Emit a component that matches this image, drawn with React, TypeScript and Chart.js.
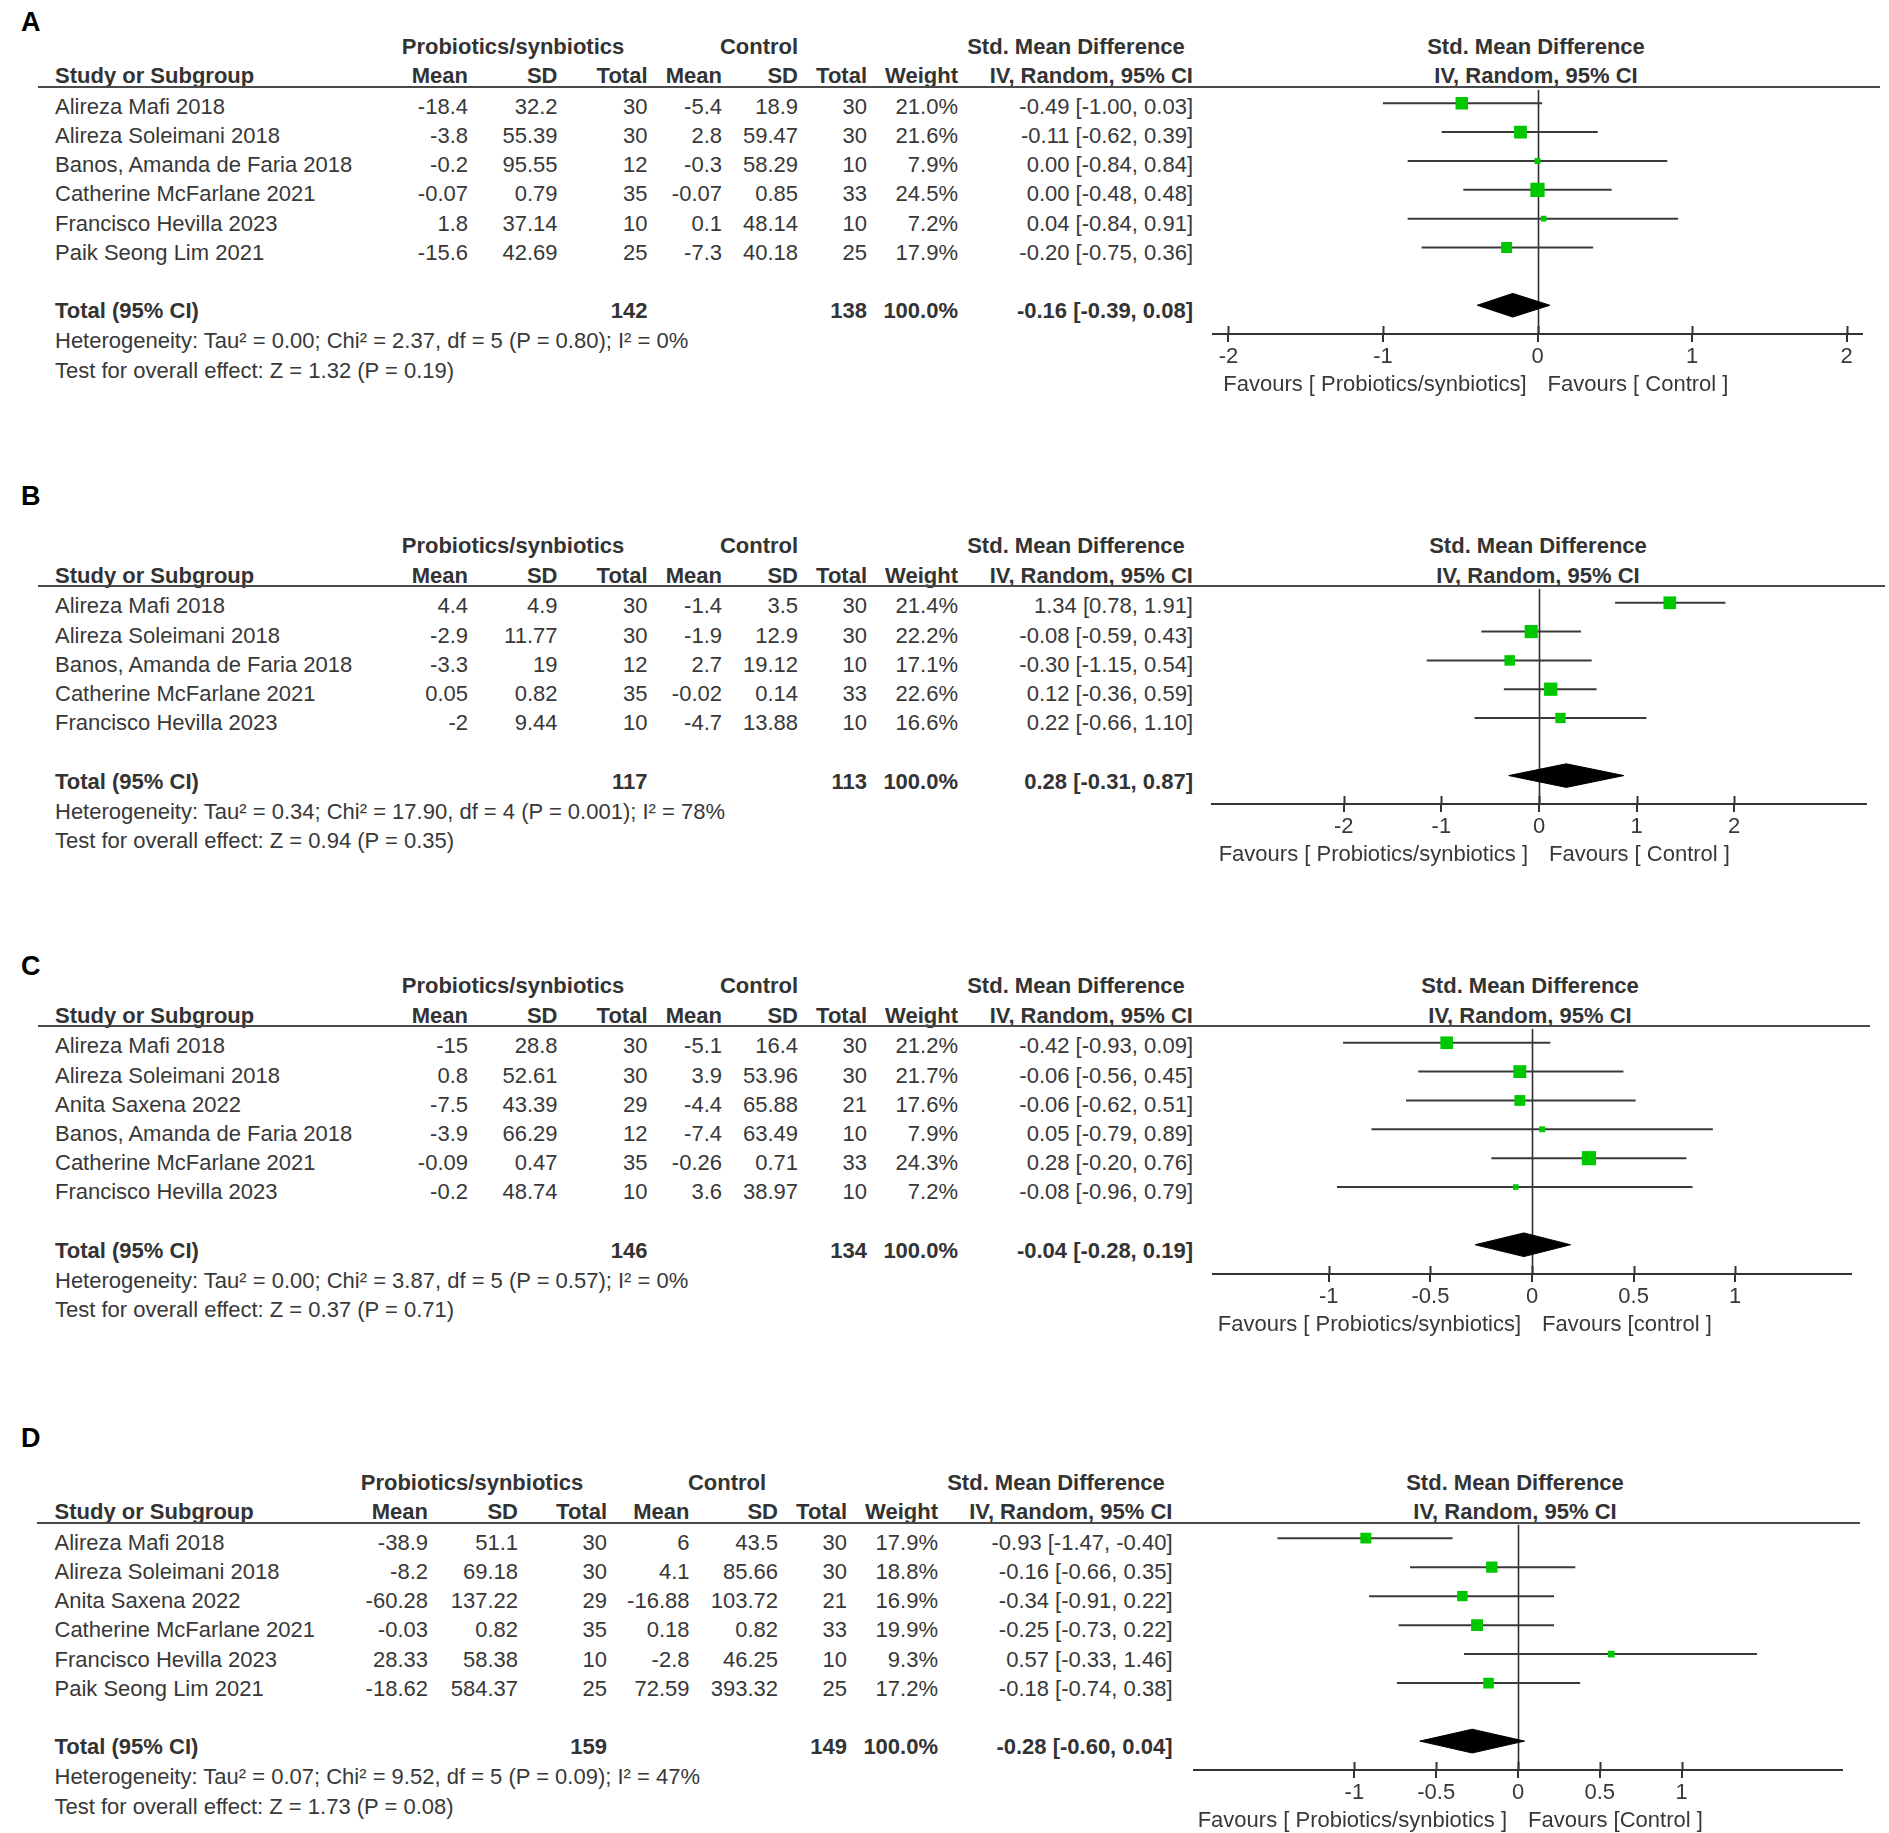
import React, { useEffect, useRef } from "react";
import { Chart, registerables } from "chart.js";

Chart.register(...registerables);

const PAGE_W = 1889;
const PAGE_H = 1833;
const FONT = "'Liberation Sans', Arial, Helvetica, sans-serif";
const TEXT = "#383838";
const GREEN = "#00c800";
const ROW = 29.2;

// ---------------- Panel A ----------------
const studiesA = ["Alireza Mafi 2018", "Alireza Soleimani 2018", "Banos, Amanda de Faria 2018", "Catherine McFarlane 2021", "Francisco Hevilla 2023", "Paik Seong Lim 2021"];
const expMeanA = [-18.4, -3.8, -0.2, -0.07, 1.8, -15.6];
const expSdA = [32.2, 55.39, 95.55, 0.79, 37.14, 42.69];
const expTotalA = [30, 30, 12, 35, 10, 25];
const ctlMeanA = [-5.4, 2.8, -0.3, -0.07, 0.1, -7.3];
const ctlSdA = [18.9, 59.47, 58.29, 0.85, 48.14, 40.18];
const ctlTotalA = [30, 30, 10, 33, 10, 25];
const weightA = [21.0, 21.6, 7.9, 24.5, 7.2, 17.9];
const smdA = [-0.49, -0.11, 0.0, 0.0, 0.04, -0.2];
const ciLowA = [-1.0, -0.62, -0.84, -0.48, -0.84, -0.75];
const ciHighA = [0.03, 0.39, 0.84, 0.48, 0.91, 0.36];
const totalsA = [142, 138];
const pooledA = [-0.16, -0.39, 0.08];
const hetA = "Heterogeneity: Tau\u00b2 = 0.00; Chi\u00b2 = 2.37, df = 5 (P = 0.80); I\u00b2 = 0%";
const testA = "Test for overall effect: Z = 1.32 (P = 0.19)";
const ticksA = [-2, -1, 0, 1, 2];
const favoursA = ["Favours [ Probiotics/synbiotics]", "Favours [ Control ]"];

// ---------------- Panel B ----------------
const studiesB = ["Alireza Mafi 2018", "Alireza Soleimani 2018", "Banos, Amanda de Faria 2018", "Catherine McFarlane 2021", "Francisco Hevilla 2023"];
const expMeanB = [4.4, -2.9, -3.3, 0.05, -2];
const expSdB = [4.9, 11.77, 19, 0.82, 9.44];
const expTotalB = [30, 30, 12, 35, 10];
const ctlMeanB = [-1.4, -1.9, 2.7, -0.02, -4.7];
const ctlSdB = [3.5, 12.9, 19.12, 0.14, 13.88];
const ctlTotalB = [30, 30, 10, 33, 10];
const weightB = [21.4, 22.2, 17.1, 22.6, 16.6];
const smdB = [1.34, -0.08, -0.3, 0.12, 0.22];
const ciLowB = [0.78, -0.59, -1.15, -0.36, -0.66];
const ciHighB = [1.91, 0.43, 0.54, 0.59, 1.1];
const totalsB = [117, 113];
const pooledB = [0.28, -0.31, 0.87];
const hetB = "Heterogeneity: Tau\u00b2 = 0.34; Chi\u00b2 = 17.90, df = 4 (P = 0.001); I\u00b2 = 78%";
const testB = "Test for overall effect: Z = 0.94 (P = 0.35)";
const ticksB = [-2, -1, 0, 1, 2];
const favoursB = ["Favours [ Probiotics/synbiotics ]", "Favours [ Control ]"];

// ---------------- Panel C ----------------
const studiesC = ["Alireza Mafi 2018", "Alireza Soleimani 2018", "Anita Saxena 2022", "Banos, Amanda de Faria 2018", "Catherine McFarlane 2021", "Francisco Hevilla 2023"];
const expMeanC = [-15, 0.8, -7.5, -3.9, -0.09, -0.2];
const expSdC = [28.8, 52.61, 43.39, 66.29, 0.47, 48.74];
const expTotalC = [30, 30, 29, 12, 35, 10];
const ctlMeanC = [-5.1, 3.9, -4.4, -7.4, -0.26, 3.6];
const ctlSdC = [16.4, 53.96, 65.88, 63.49, 0.71, 38.97];
const ctlTotalC = [30, 30, 21, 10, 33, 10];
const weightC = [21.2, 21.7, 17.6, 7.9, 24.3, 7.2];
const smdC = [-0.42, -0.06, -0.06, 0.05, 0.28, -0.08];
const ciLowC = [-0.93, -0.56, -0.62, -0.79, -0.2, -0.96];
const ciHighC = [0.09, 0.45, 0.51, 0.89, 0.76, 0.79];
const totalsC = [146, 134];
const pooledC = [-0.04, -0.28, 0.19];
const hetC = "Heterogeneity: Tau\u00b2 = 0.00; Chi\u00b2 = 3.87, df = 5 (P = 0.57); I\u00b2 = 0%";
const testC = "Test for overall effect: Z = 0.37 (P = 0.71)";
const ticksC = [-1, -0.5, 0, 0.5, 1];
const favoursC = ["Favours [ Probiotics/synbiotics]", "Favours [control ]"];

// ---------------- Panel D ----------------
const studiesD = ["Alireza Mafi 2018", "Alireza Soleimani 2018", "Anita Saxena 2022", "Catherine McFarlane 2021", "Francisco Hevilla 2023", "Paik Seong Lim 2021"];
const expMeanD = [-38.9, -8.2, -60.28, -0.03, 28.33, -18.62];
const expSdD = [51.1, 69.18, 137.22, 0.82, 58.38, 584.37];
const expTotalD = [30, 30, 29, 35, 10, 25];
const ctlMeanD = [6, 4.1, -16.88, 0.18, -2.8, 72.59];
const ctlSdD = [43.5, 85.66, 103.72, 0.82, 46.25, 393.32];
const ctlTotalD = [30, 30, 21, 33, 10, 25];
const weightD = [17.9, 18.8, 16.9, 19.9, 9.3, 17.2];
const smdD = [-0.93, -0.16, -0.34, -0.25, 0.57, -0.18];
const ciLowD = [-1.47, -0.66, -0.91, -0.73, -0.33, -0.74];
const ciHighD = [-0.4, 0.35, 0.22, 0.22, 1.46, 0.38];
const totalsD = [159, 149];
const pooledD = [-0.28, -0.6, 0.04];
const hetD = "Heterogeneity: Tau\u00b2 = 0.07; Chi\u00b2 = 9.52, df = 5 (P = 0.09); I\u00b2 = 47%";
const testD = "Test for overall effect: Z = 1.73 (P = 0.08)";
const ticksD = [-1, -0.5, 0, 0.5, 1];
const favoursD = ["Favours [ Probiotics/synbiotics ]", "Favours [Control ]"];

type PanelData = {
  id: string;
  studies: string[];
  expMean: number[];
  expSd: number[];
  expTotal: number[];
  ctlMean: number[];
  ctlSd: number[];
  ctlTotal: number[];
  weight: number[];
  smd: number[];
  ciLow: number[];
  ciHigh: number[];
  totals: number[];
  pooled: number[];
  het: string;
  test: string;
  ticks: number[];
  favours: string[];
};

const panels: PanelData[] = [
  { id: "A", studies: studiesA, expMean: expMeanA, expSd: expSdA, expTotal: expTotalA, ctlMean: ctlMeanA, ctlSd: ctlSdA, ctlTotal: ctlTotalA, weight: weightA, smd: smdA, ciLow: ciLowA, ciHigh: ciHighA, totals: totalsA, pooled: pooledA, het: hetA, test: testA, ticks: ticksA, favours: favoursA },
  { id: "B", studies: studiesB, expMean: expMeanB, expSd: expSdB, expTotal: expTotalB, ctlMean: ctlMeanB, ctlSd: ctlSdB, ctlTotal: ctlTotalB, weight: weightB, smd: smdB, ciLow: ciLowB, ciHigh: ciHighB, totals: totalsB, pooled: pooledB, het: hetB, test: testB, ticks: ticksB, favours: favoursB },
  { id: "C", studies: studiesC, expMean: expMeanC, expSd: expSdC, expTotal: expTotalC, ctlMean: ctlMeanC, ctlSd: ctlSdC, ctlTotal: ctlTotalC, weight: weightC, smd: smdC, ciLow: ciLowC, ciHigh: ciHighC, totals: totalsC, pooled: pooledC, het: hetC, test: testC, ticks: ticksC, favours: favoursC },
  { id: "D", studies: studiesD, expMean: expMeanD, expSd: expSdD, expTotal: expTotalD, ctlMean: ctlMeanD, ctlSd: ctlSdD, ctlTotal: ctlTotalD, weight: weightD, smd: smdD, ciLow: ciLowD, ciHigh: ciHighD, totals: totalsD, pooled: pooledD, het: hetD, test: testD, ticks: ticksD, favours: favoursD },
];

// ---------------- Layout (positions only) ----------------
type Cols = { name: number; mean: number; sd: number; n: number; cMean: number; cSd: number; cN: number; w: number; ci: number; probHead: number; ctlHead: number; smdHead: number };
const COLS_ABC: Cols = { name: 55, mean: 468, sd: 557.5, n: 647.5, cMean: 722, cSd: 798, cN: 867, w: 958, ci: 1193, probHead: 513, ctlHead: 759, smdHead: 1076 };
const COLS_D: Cols = { name: 54.5, mean: 428, sd: 518, n: 607, cMean: 689.5, cSd: 778, cN: 847, w: 938, ci: 1172.5, probHead: 472, ctlHead: 727, smdHead: 1056 };

type Layout = { labelY: number; h1: number; cols: Cols; axisLeft: number; axisRight: number; range: number; plotHeadX: number; lineLeft: number; lineRight: number };
const layouts: Layout[] = [
  { labelY: 32, h1: 54.5, cols: COLS_ABC, axisLeft: 1213, axisRight: 1862, range: 2.1, plotHeadX: 1536, lineLeft: 38, lineRight: 1880 },
  { labelY: 506, h1: 554, cols: COLS_ABC, axisLeft: 1212, axisRight: 1866, range: 3.35, plotHeadX: 1538, lineLeft: 38, lineRight: 1885 },
  { labelY: 976, h1: 994, cols: COLS_ABC, axisLeft: 1213, axisRight: 1851, range: 1.57, plotHeadX: 1530, lineLeft: 38, lineRight: 1870 },
  { labelY: 1448, h1: 1490.5, cols: COLS_D, axisLeft: 1194, axisRight: 1842, range: 1.98, plotHeadX: 1515, lineLeft: 37, lineRight: 1860 },
];

// ---------------- Text helper ----------------
type TxtProps = { x: number; y: number; text: string; align?: "left" | "right" | "center"; bold?: boolean; size?: number; color?: string };
function Txt({ x, y, text, align = "left", bold = false, size = 22, color = TEXT }: TxtProps) {
  const style: React.CSSProperties = {
    position: "absolute",
    top: y - 0.8465 * size,
    fontSize: size,
    lineHeight: `${size}px`,
    fontWeight: bold ? 700 : 400,
    color,
    whiteSpace: "nowrap",
    fontFamily: FONT,
  };
  if (align === "left") style.left = x;
  else if (align === "right") style.right = PAGE_W - x;
  else {
    style.left = x - 400;
    style.width = 800;
    style.textAlign = "center";
  }
  return <div style={style}>{text}</div>;
}

// ---------------- Chart plugin ----------------
const forestDecor = {
  id: "forestDecor",
  beforeDatasetsDraw(chart: any) {
    const { ctx, chartArea, scales } = chart;
    const x0 = Math.round(scales.x.getPixelForValue(0)) + 0.5;
    ctx.save();
    ctx.strokeStyle = "#2e2e2e";
    ctx.lineWidth = 1.6;
    ctx.beginPath();
    ctx.moveTo(x0, chartArea.top);
    ctx.lineTo(x0, chartArea.bottom);
    ctx.stroke();
    ctx.restore();
  },
  afterDraw(chart: any, _args: any, opts: any) {
    const { ctx, chartArea, scales } = chart;
    const xs = scales.x;
    ctx.save();
    ctx.strokeStyle = "#333";
    ctx.lineWidth = 2;
    xs.ticks.forEach((t: any) => {
      const px = Math.round(xs.getPixelForValue(t.value)) + 0.5;
      ctx.beginPath();
      ctx.moveTo(px, chartArea.bottom - 8);
      ctx.lineTo(px, chartArea.bottom);
      ctx.stroke();
    });
    const x0 = xs.getPixelForValue(0);
    ctx.font = `22px ${FONT}`;
    ctx.fillStyle = TEXT;
    ctx.textBaseline = "alphabetic";
    ctx.textAlign = "right";
    ctx.fillText(opts.left, x0 - 11, chartArea.bottom + 57);
    ctx.textAlign = "left";
    ctx.fillText(opts.right, x0 + 10, chartArea.bottom + 57);
    ctx.restore();
  },
};

function ForestChart({ d, L }: { d: PanelData; L: Layout }) {
  const ref = useRef<HTMLCanvasElement>(null);
  const n = d.studies.length;
  const chartTop = Math.round(L.h1 + 32);
  const axisY = Math.round(L.h1 + 46 + ROW * (n + 2));
  const cLeft = 1150;
  const cTop = chartTop - 6;
  const cW = PAGE_W - cLeft;
  const EXTRA = 66;
  const AXIS_H = 36;
  const cH = axisY - cTop + EXTRA;
  const row0 = L.h1 + 46;
  const yMin = (chartTop - row0) / ROW;
  const yMax = (axisY - row0) / ROW;

  useEffect(() => {
    if (!ref.current) return;
    const datasets: any[] = [];
    d.ciLow.forEach((lo, i) => {
      datasets.push({
        data: [{ x: lo, y: i }, { x: d.ciHigh[i], y: i }],
        borderColor: "#3a3a3a",
        borderWidth: 2,
        pointRadius: 0,
        fill: false,
        order: 3,
      });
    });
    const t = n + 1;
    const hh = 0.41;
    const [est, lo, hi] = d.pooled;
    datasets.push({
      data: [{ x: lo, y: t }, { x: est, y: t - hh }, { x: hi, y: t }, { x: est, y: t + hh }, { x: lo, y: t }],
      borderColor: "#000",
      backgroundColor: "#000",
      borderWidth: 1,
      pointRadius: 0,
      fill: "shape",
      order: 2,
    });
    const side = (w: number) => 2 + 0.5 * w;
    datasets.push({
      data: d.smd.map((v, i) => ({ x: v, y: i })),
      showLine: false,
      pointStyle: "rect",
      pointRadius: d.weight.map((w) => side(w) / Math.SQRT2),
      pointHoverRadius: d.weight.map((w) => side(w) / Math.SQRT2),
      backgroundColor: GREEN,
      borderColor: GREEN,
      borderWidth: 0,
      order: 0,
    });

    const ticks = d.ticks;
    const chart = new Chart(ref.current, {
      type: "line",
      data: { datasets },
      plugins: [forestDecor as any],
      options: {
        animation: false,
        responsive: false,
        devicePixelRatio: 1,
        events: [],
        layout: {
          padding: {
            left: L.axisLeft - cLeft,
            right: cLeft + cW - L.axisRight,
            top: chartTop - cTop,
            bottom: EXTRA - AXIS_H,
          },
        },
        plugins: {
          legend: { display: false },
          tooltip: { enabled: false },
          forestDecor: { left: d.favours[0], right: d.favours[1] },
        } as any,
        scales: {
          x: {
            type: "linear",
            min: -L.range,
            max: L.range,
            afterBuildTicks: (s: any) => {
              s.ticks = ticks.map((v) => ({ value: v }));
            },
            afterFit: (s: any) => {
              s.height = AXIS_H;
            },
            grid: { display: true, drawOnChartArea: false, drawTicks: true, tickLength: 8, color: "#333", lineWidth: 2 },
            border: { display: true, color: "#333", width: 2 },
            ticks: {
              padding: 2,
              color: TEXT,
              font: { family: FONT, size: 22 },
              maxRotation: 0,
              autoSkip: false,
              callback: (v: any) => String(v),
            },
          },
          y: {
            type: "linear",
            display: false,
            reverse: true,
            min: yMin,
            max: yMax,
          },
        },
      } as any,
    });
    return () => chart.destroy();
  }, []);

  return <canvas ref={ref} width={cW} height={cH} style={{ position: "absolute", left: cLeft, top: cTop, width: cW, height: cH }} />;
}

function Panel({ d, L }: { d: PanelData; L: Layout }) {
  const c = L.cols;
  const n = d.studies.length;
  const h1 = L.h1;
  const h2 = h1 + 29.5;
  const rowBase = (i: number) => h1 + 60 + ROW * i;
  const tb = rowBase(n + 1);
  const fmtCi = (e: number, lo: number, hi: number) => `${e.toFixed(2)} [${lo.toFixed(2)}, ${hi.toFixed(2)}]`;
  const hdr = "#333";
  const els: React.ReactNode[] = [];
  els.push(<Txt key="lab" x={21} y={L.labelY} text={d.id} bold size={27} color="#000" />);
  els.push(<Txt key="h-prob" x={c.probHead} y={h1} text="Probiotics/synbiotics" align="center" bold color={hdr} />);
  els.push(<Txt key="h-ctl" x={c.ctlHead} y={h1} text="Control" align="center" bold color={hdr} />);
  els.push(<Txt key="h-smd" x={c.smdHead} y={h1} text="Std. Mean Difference" align="center" bold color={hdr} />);
  els.push(<Txt key="h-smd2" x={L.plotHeadX} y={h1} text="Std. Mean Difference" align="center" bold color={hdr} />);
  els.push(<Txt key="h2-study" x={c.name} y={h2} text="Study or Subgroup" bold color={hdr} />);
  els.push(<Txt key="h2-m" x={c.mean} y={h2} text="Mean" align="right" bold color={hdr} />);
  els.push(<Txt key="h2-sd" x={c.sd} y={h2} text="SD" align="right" bold color={hdr} />);
  els.push(<Txt key="h2-n" x={c.n} y={h2} text="Total" align="right" bold color={hdr} />);
  els.push(<Txt key="h2-cm" x={c.cMean} y={h2} text="Mean" align="right" bold color={hdr} />);
  els.push(<Txt key="h2-csd" x={c.cSd} y={h2} text="SD" align="right" bold color={hdr} />);
  els.push(<Txt key="h2-cn" x={c.cN} y={h2} text="Total" align="right" bold color={hdr} />);
  els.push(<Txt key="h2-w" x={c.w} y={h2} text="Weight" align="right" bold color={hdr} />);
  els.push(<Txt key="h2-ci" x={c.ci} y={h2} text="IV, Random, 95% CI" align="right" bold color={hdr} />);
  els.push(<Txt key="h2-ci2" x={L.plotHeadX} y={h2} text="IV, Random, 95% CI" align="center" bold color={hdr} />);
  els.push(
    <div key="hline" style={{ position: "absolute", left: L.lineLeft, top: Math.round(h1 + 32) - 1, width: L.lineRight - L.lineLeft, height: 2, background: "#4a4a4a" }} />
  );
  d.studies.forEach((s, i) => {
    const y = rowBase(i);
    els.push(<Txt key={`s${i}`} x={c.name} y={y} text={s} />);
    els.push(<Txt key={`m${i}`} x={c.mean} y={y} text={String(d.expMean[i])} align="right" />);
    els.push(<Txt key={`sd${i}`} x={c.sd} y={y} text={String(d.expSd[i])} align="right" />);
    els.push(<Txt key={`n${i}`} x={c.n} y={y} text={String(d.expTotal[i])} align="right" />);
    els.push(<Txt key={`cm${i}`} x={c.cMean} y={y} text={String(d.ctlMean[i])} align="right" />);
    els.push(<Txt key={`csd${i}`} x={c.cSd} y={y} text={String(d.ctlSd[i])} align="right" />);
    els.push(<Txt key={`cn${i}`} x={c.cN} y={y} text={String(d.ctlTotal[i])} align="right" />);
    els.push(<Txt key={`w${i}`} x={c.w} y={y} text={`${d.weight[i].toFixed(1)}%`} align="right" />);
    els.push(<Txt key={`ci${i}`} x={c.ci} y={y} text={fmtCi(d.smd[i], d.ciLow[i], d.ciHigh[i])} align="right" />);
  });
  els.push(<Txt key="t-lab" x={c.name} y={tb} text="Total (95% CI)" bold color={hdr} />);
  els.push(<Txt key="t-n" x={c.n} y={tb} text={String(d.totals[0])} align="right" bold color={hdr} />);
  els.push(<Txt key="t-cn" x={c.cN} y={tb} text={String(d.totals[1])} align="right" bold color={hdr} />);
  els.push(<Txt key="t-w" x={c.w} y={tb} text="100.0%" align="right" bold color={hdr} />);
  els.push(<Txt key="t-ci" x={c.ci} y={tb} text={fmtCi(d.pooled[0], d.pooled[1], d.pooled[2])} align="right" bold color={hdr} />);
  els.push(<Txt key="het" x={c.name} y={tb + 30} text={d.het} />);
  els.push(<Txt key="test" x={c.name} y={tb + 59.5} text={d.test} />);
  return (
    <>
      {els}
      <ForestChart d={d} L={L} />
    </>
  );
}

export default function App() {
  return (
    <div
      style={{
        position: "absolute",
        left: 0,
        top: 0,
        width: PAGE_W,
        height: PAGE_H,
        overflow: "hidden",
        background: "#ffffff",
        fontFamily: FONT,
      }}
    >
      {panels.map((p, i) => (
        <Panel key={p.id} d={p} L={layouts[i]} />
      ))}
    </div>
  );
}
